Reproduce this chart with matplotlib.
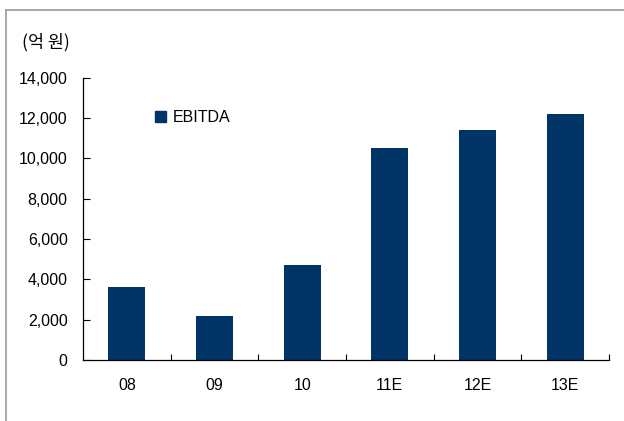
import matplotlib.pyplot as plt
from matplotlib.lines import Line2D
from matplotlib.patches import Patch
from matplotlib import font_manager

names = set(f.name for f in font_manager.fontManager.ttflist)
narrow = 'Liberation Sans Narrow' if 'Liberation Sans Narrow' in names else 'Liberation Sans'
plt.rcParams['font.family'] = [narrow, 'Noto Sans CJK KR', 'DejaVu Sans']

# data
years = ['08', '09', '10', '11E', '12E', '13E']
ebitda = [3600, 2200, 4700, 10500, 11400, 12200]
bar_color = '#003366'

fig = plt.figure(figsize=(6.24, 4.21), dpi=100)
ax = fig.add_axes([0.133, 0.145, 0.843, 0.670])

x = range(len(years))
ax.bar(x, ebitda, width=0.42, color=bar_color)

ax.set_xlim(-0.5, len(years) - 0.5)
ax.set_ylim(0, 14000)
ax.set_yticks(range(0, 14001, 2000))
ax.set_yticklabels(['{:,}'.format(v) for v in range(0, 14001, 2000)], fontsize=11.5)
ax.tick_params(axis='y', direction='in', length=5, pad=11, width=0.8)

# category labels, ticks on category boundaries
ax.set_xticks([i + 0.5 for i in range(len(years))])
ax.set_xticklabels([])
ax.set_xticks(list(x), minor=True)
ax.set_xticklabels(years, minor=True, fontsize=11.5)
ax.tick_params(axis='x', which='major', direction='in', length=4, width=0.8)
ax.tick_params(axis='x', which='minor', length=0, pad=13)

for s in ['top', 'right']:
    ax.spines[s].set_visible(False)
for s in ['left', 'bottom']:
    ax.spines[s].set_linewidth(0.9)

ax.legend(handles=[Patch(color=bar_color, label='EBITDA')], loc='upper left',
          bbox_to_anchor=(0.11, 0.937), frameon=False, fontsize=11.5,
          handlelength=0.7, handleheight=0.7, handletextpad=0.4)

fig.text(22 / 624, 1 - 42 / 421, '(억 원)', fontsize=12.5, va='center',
         family=['Noto Sans CJK KR', 'DejaVu Sans'])

# outer frame (top and left)
fig.add_artist(Line2D([6 / 624, 1], [1 - 10 / 421, 1 - 10 / 421], color='#999999', lw=1.2))
fig.add_artist(Line2D([6 / 624, 6 / 624], [0, 1 - 10 / 421], color='#999999', lw=1.2))

fig.savefig('out.png', dpi=100)
